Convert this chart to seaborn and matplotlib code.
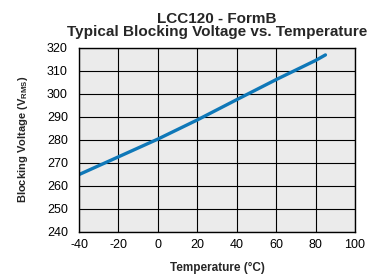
import matplotlib
matplotlib.use('Agg')
import matplotlib.pyplot as plt
import seaborn as sns
import pandas as pd

# values
temperature = [-40, -20, 0, 20, 40, 60, 80, 85]
blocking_voltage = [264.9, 272.6, 280.3, 288.6, 297.4, 306.1, 314.4, 316.8]
x_ticks = [-40, -20, 0, 20, 40, 60, 80, 100]
y_ticks = [240, 250, 260, 270, 280, 290, 300, 310, 320]

df = pd.DataFrame({'temp': temperature, 'volt': blocking_voltage})

sns.set_style('white')
plt.rcParams['font.family'] = ['Liberation Sans', 'DejaVu Sans']
plt.rcParams['mathtext.fontset'] = 'custom'
plt.rcParams['mathtext.rm'] = 'Liberation Sans'
plt.rcParams['mathtext.bf'] = 'Liberation Sans:bold'
plt.rcParams['axes.unicode_minus'] = False

fig = plt.figure(figsize=(3.86, 2.78), dpi=100)
ax = fig.add_axes([0.2047, 0.1655, 0.715, 0.6635])
ax.set_facecolor('#ebebeb')

sns.lineplot(data=df, x='temp', y='volt', ax=ax, color='#0f78b8', linewidth=2.4)

ax.set_xlim(-40, 100)
ax.set_ylim(240, 320)
ax.set_xticks(x_ticks)
ax.set_yticks(y_ticks)
ax.grid(True, color='black', linewidth=0.8)
ax.set_axisbelow(True)
for s in ax.spines.values():
    s.set_color('black')
    s.set_linewidth(1.0)
ax.tick_params(length=0, labelsize=9, colors='black')
ax.tick_params(axis='x', pad=5)
ax.tick_params(axis='y', pad=8)

ax.set_xlabel('Temperature (°C)', fontsize=8.5, fontweight='bold', labelpad=8)
ax.set_ylabel(r'Blocking Voltage (V$_{\mathbf{RMS}}$)', fontsize=8, fontweight='bold', labelpad=12)
ax.set_title('LCC120 - FormB\nTypical Blocking Voltage vs. Temperature',
             fontsize=11, fontweight='bold', linespacing=0.92, pad=8)

fig.savefig('out.png', dpi=100)
